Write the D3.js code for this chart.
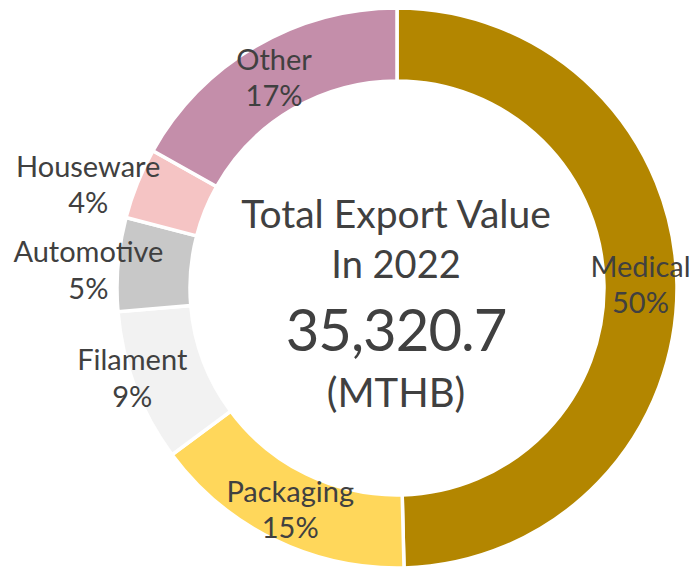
<!DOCTYPE html>
<html>
<head>
<meta charset="utf-8">
<script src="https://cdn.jsdelivr.net/npm/d3@7"></script>
<style>
  html, body { margin: 0; padding: 0; background: #fff; }
  svg { display: block; }
  text { font-family: Lato, 'Open Sans', sans-serif; fill: #404040; }
</style>
</head>
<body>
<div id="chart"></div>
<script>
// export value by segment, MTHB
const categories = ['Medical', 'Packaging', 'Filament', 'Automotive', 'Houseware', 'Other'];
const values = [17519.4, 5386.0, 3108.2, 1907.3, 1448.1, 5951.7];
const colors = ['#b38600', '#ffd75b', '#f2f2f2', '#c8c8c8', '#f5c4c4', '#c48eaa'];
const titleLines = ['Total Export Value', 'In 2022'];
const unitLabel = '(MTHB)';

// some labels were dragged off the centroid in the original
const labelNudge = {
  Packaging: [0, 3],
  Filament: [-37, 4],
  Automotive: [-66, 3],
  Houseware: [-83, -12]
};

const width = 694;
const height = 568;
const cx = 397;
const cy = 288;
const outerR = 280;
const innerR = 207;

const svg = d3.select('#chart')
  .append('svg')
  .attr('width', width)
  .attr('height', height);

const g = svg.append('g').attr('transform', `translate(${cx},${cy})`);

const total = d3.sum(values);

const pie = d3.pie().sort(null).value(d => d.value);
const arc = d3.arc().innerRadius(innerR).outerRadius(outerR);

const data = categories.map((c, i) => ({ name: c, value: values[i], color: colors[i] }));
const slices = pie(data);

g.selectAll('path.slice')
  .data(slices)
  .enter()
  .append('path')
  .attr('class', 'slice')
  .attr('d', arc)
  .attr('fill', d => d.data.color)
  .attr('stroke', '#fff')
  .attr('stroke-width', 3.5);

// data labels: name + percent
const pct = d3.format('.0%');
const label = g.selectAll('g.label')
  .data(slices)
  .enter()
  .append('g')
  .attr('class', 'label')
  .attr('transform', d => {
    const [x, y] = arc.centroid(d);
    const n = labelNudge[d.data.name] || [0, 0];
    return `translate(${x + n[0]},${y + n[1]})`;
  });

label.append('text')
  .attr('text-anchor', 'middle')
  .attr('y', -8)
  .style('font-size', '29px')
  .text(d => d.data.name);

label.append('text')
  .attr('text-anchor', 'middle')
  .attr('y', 28.5)
  .style('font-size', '29px')
  .text(d => pct(d.data.value / total));

// centre text
const centre = g.append('g').attr('transform', 'translate(-1,0)');
centre.append('text')
  .attr('text-anchor', 'middle')
  .attr('y', -60.5)
  .style('font-size', '39px')
  .text(titleLines[0]);
centre.append('text')
  .attr('text-anchor', 'middle')
  .attr('y', -10)
  .style('font-size', '38px')
  .text(titleLines[1]);
centre.append('text')
  .attr('text-anchor', 'middle')
  .attr('y', 63)
  .style('font-size', '58px')
  .style('letter-spacing', '-1px')
  .text(d3.format(',.1f')(total));
centre.append('text')
  .attr('text-anchor', 'middle')
  .attr('y', 119)
  .style('font-size', '40px')
  .text(unitLabel);
</script>
</body>
</html>
